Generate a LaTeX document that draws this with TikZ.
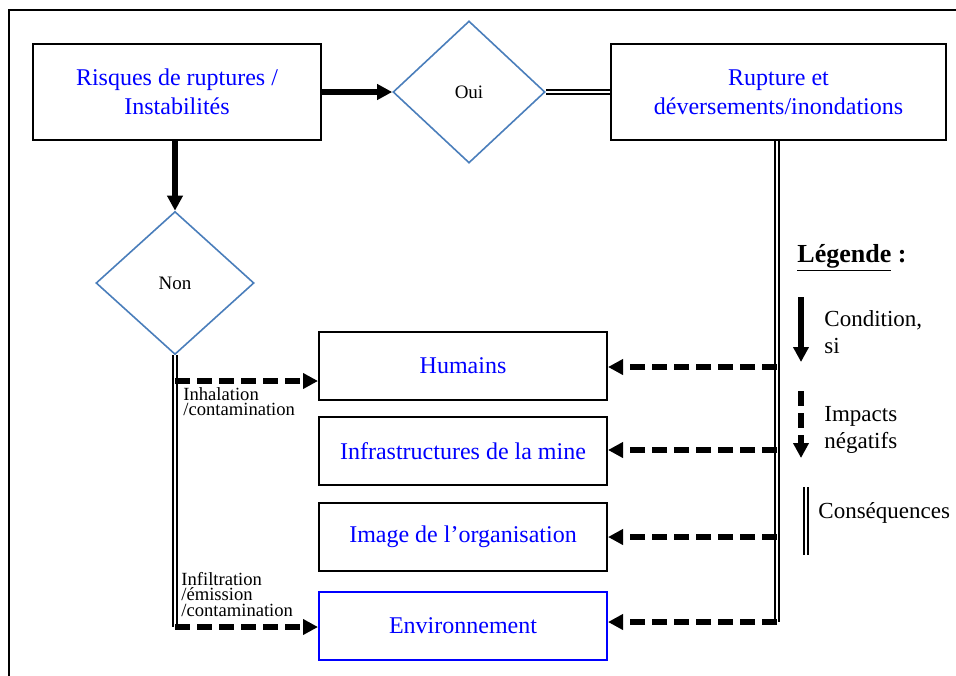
\documentclass[tikz,border=0pt]{standalone}
\usepackage{fontspec}
\setmainfont{Liberation Serif}
\usetikzlibrary{shapes.geometric,arrows.meta}
\definecolor{bleutexte}{RGB}{0,0,255}
\definecolor{bleulosange}{RGB}{74,126,187}
\tikzset{
  boite/.style={draw=black, line width=1pt, minimum width=144pt, minimum height=34pt,
    inner sep=2pt, align=center, text=bleutexte, font=\fontsize{12}{14.5}\selectfont},
  losange/.style={diamond, draw=bleulosange, line width=0.8pt, inner sep=0pt,
    font=\fontsize{9.5}{11}\selectfont},
  condition/.style={line width=2.8pt, -{Triangle[length=7.5pt,width=7.5pt]}},
  impact/.style={line width=2.6pt, dash pattern=on 7.5pt off 3.5pt,
    -{Triangle[length=7.5pt,width=7.5pt]}},
  consequence/.style={double, double distance=1.2pt, line width=1pt},
  etiquette/.style={font=\fontsize{9.3}{7.8}\selectfont, align=left, inner sep=0pt},
  legendetexte/.style={font=\fontsize{11.5}{13.5}\selectfont, align=left, inner sep=0pt},
}

\begin{document}
\begin{tikzpicture}[x=0.5pt,y=-0.5pt]
  \path[use as bounding box] (0,0) rectangle (956,675);

  % cadre
  \draw[line width=1pt] (9,700) -- (9,10) -- (990,10);

  % boites du haut
  \node[boite, minimum width=144pt, minimum height=48pt] (risques) at (177,92)
    {Risques de ruptures /\\Instabilités};
  \node[losange, minimum width=76pt, minimum height=71pt] (oui) at (469,92) {Oui};
  \node[boite, minimum width=167.5pt, minimum height=48pt] (rupture) at (778.5,92)
    {Rupture et\\déversements/inondations};
  \node[losange, minimum width=79pt, minimum height=71.5pt] (non) at (175,283) {Non};

  % cibles
  \node[boite] (humains) at (463,366) {Humains};
  \node[boite] (infra) at (463,451) {Infrastructures de la mine};
  \node[boite] (image) at (463,536.5) {Image de l’organisation};
  \node[boite, draw=bleutexte] (envir) at (463,626) {Environnement};

  % conditions
  \draw[condition] (risques.south -| non.north) -- (non.north);
  \draw[condition] (risques.east) -- (oui.west);
  \draw[consequence] (oui.east) -- (rupture.west);

  % branche droite
  \coordinate (tronc1) at (777,367);
  \coordinate (tronc2) at (777,450);
  \coordinate (tronc3) at (777,537);
  \coordinate (tronc4) at (777,622);
  \draw[consequence] (rupture.south -| tronc4) -- (tronc4);
  \draw[impact] (tronc1) -- (tronc1 -| humains.east);
  \draw[impact] (tronc2) -- (tronc2 -| infra.east);
  \draw[impact] (tronc3) -- (tronc3 -| image.east);
  \draw[impact] (tronc4) -- (tronc4 -| envir.east);

  % branche gauche
  \coordinate (gauche1) at (175,381);
  \coordinate (gauche2) at (175,627);
  \draw[consequence] (non.south) -- (gauche2);
  \draw[impact] (gauche1) -- (gauche1 -| humains.west);
  \draw[impact] (gauche2) -- (gauche2 -| envir.west);
  \node[etiquette, anchor=north west] (inhal) at (183,387) {Inhalation\\/contamination};
  \node[etiquette, anchor=south west] (infil) at (181,617)
    {Infiltration\\/émission\\/contamination};

  % legende
  \node[anchor=base west, inner sep=0pt, font=\fontsize{13}{15}\selectfont\bfseries]
    (legende) at (797,262) {\underline{Légende} :};
  \draw[condition] (801,297) -- (801,362);
  \node[legendetexte, anchor=north west] (cond) at (824,310) {Condition,\\si};
  \draw[impact] (801,391) -- (801,458);
  \node[legendetexte, anchor=north west] (impa) at (824,406) {Impacts\\négatifs};
  \draw[consequence] (806,487) -- (806,555);
  \node[legendetexte, anchor=west] (conse) at (818,513) {Conséquences};
\end{tikzpicture}
\end{document}
